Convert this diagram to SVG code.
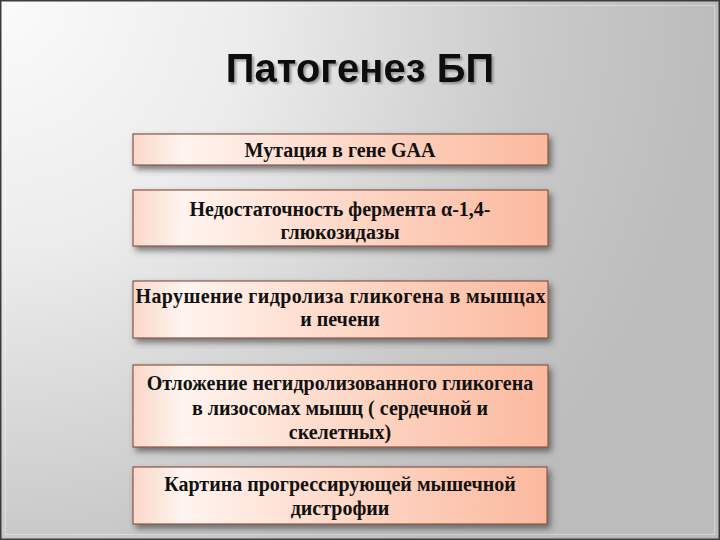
<svg xmlns="http://www.w3.org/2000/svg" width="720" height="540" viewBox="0 0 720 540">
  <defs>
    <radialGradient id="bg" cx="0" cy="0" r="720" gradientUnits="userSpaceOnUse">
      <stop offset="0" stop-color="#fbfbfb"/>
      <stop offset="0.35" stop-color="#ececec"/>
      <stop offset="0.75" stop-color="#c9c9c9"/>
      <stop offset="1" stop-color="#bcbcbc"/>
    </radialGradient>
    <linearGradient id="boxfill" x1="0" y1="0" x2="1" y2="0">
      <stop offset="0" stop-color="#f9d8c9"/>
      <stop offset="0.12" stop-color="#fff4ef"/>
      <stop offset="0.45" stop-color="#fedccd"/>
      <stop offset="1" stop-color="#fbb99e"/>
    </linearGradient>
    <filter id="shadow" x="-10%" y="-30%" width="125%" height="170%">
      <feDropShadow dx="3" dy="4" stdDeviation="3" flood-color="#3a3a3a" flood-opacity="0.65"/>
    </filter>
    <filter id="tshadow" x="-5%" y="-20%" width="115%" height="150%">
      <feDropShadow dx="2" dy="2" stdDeviation="1.2" flood-color="#777" flood-opacity="0.7"/>
    </filter>
  </defs>
  <style>
    .box { fill: url(#boxfill); stroke: #8a5746; stroke-width: 1.2; filter: url(#shadow); }
    .lbl { font-family: "Liberation Serif", "Times New Roman", serif; font-weight: bold; font-size: 20px; fill: #111; text-anchor: middle; }
    .title { font-family: "Liberation Sans", Arial, sans-serif; font-weight: bold; font-size: 40px; fill: #0a0a0a; text-anchor: middle; filter: url(#tshadow); }
  </style>
  <rect x="0" y="0" width="720" height="540" fill="url(#bg)"/>
  <rect x="5.5" y="5.5" width="709" height="529" fill="none" stroke="#ffffff" stroke-opacity="0.35" stroke-width="1"/>
  <rect x="0.75" y="0.75" width="718.5" height="538.5" fill="none" stroke="#3c3c3c" stroke-width="1.5"/>

  <text class="title" x="360" y="82">Патогенез БП</text>

  <g id="connectors"></g>

  <g id="node1">
    <rect class="box" x="133" y="134" width="415" height="31"/>
    <text class="lbl" x="340" y="157">Мутация в гене GAA</text>
  </g>
  <g id="node2">
    <rect class="box" x="133" y="190" width="415" height="56"/>
    <text class="lbl" x="340" y="216">Недостаточность фермента α-1,4-</text>
    <text class="lbl" x="340" y="239">глюкозидазы</text>
  </g>
  <g id="node3">
    <rect class="box" x="133" y="281" width="415" height="57"/>
    <text class="lbl" x="340.5" y="303" textLength="410" lengthAdjust="spacing">Нарушение гидролиза гликогена в мышцах</text>
    <text class="lbl" x="340" y="326">и печени</text>
  </g>
  <g id="node4">
    <rect class="box" x="133" y="365" width="415" height="82"/>
    <text class="lbl" x="340" y="390">Отложение негидролизованного гликогена</text>
    <text class="lbl" x="340" y="415">в лизосомах мышц ( сердечной и</text>
    <text class="lbl" x="340" y="439">скелетных)</text>
  </g>
  <g id="node5">
    <rect class="box" x="133" y="467" width="414" height="57"/>
    <text class="lbl" x="340" y="491">Картина прогрессирующей мышечной</text>
    <text class="lbl" x="340" y="515">дистрофии</text>
  </g>
</svg>
